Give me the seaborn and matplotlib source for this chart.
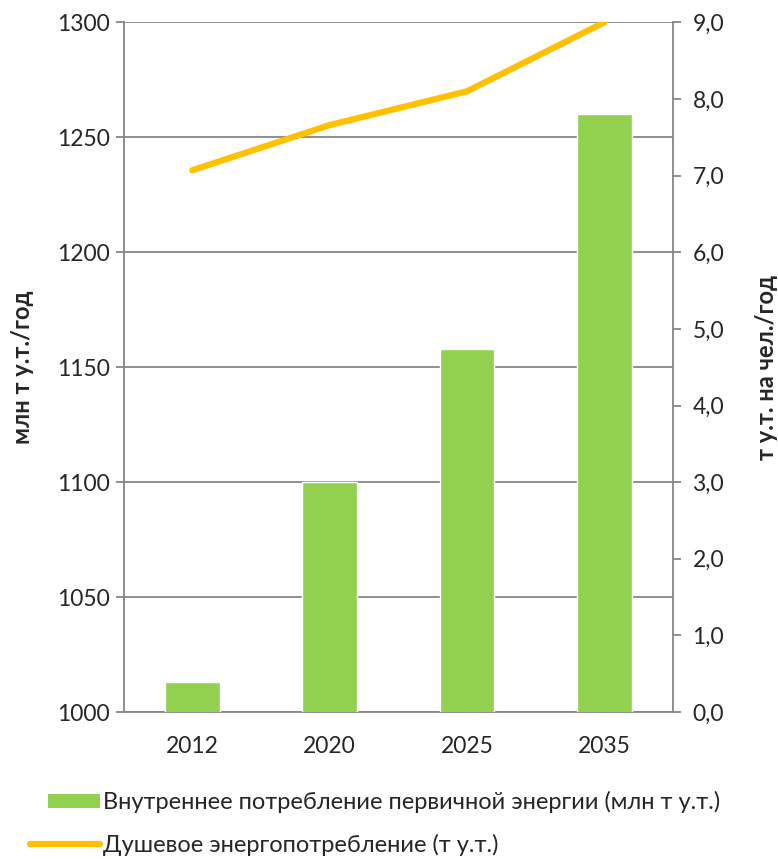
import numpy as np
import pandas as pd
import matplotlib
matplotlib.use("Agg")
import matplotlib.pyplot as plt
from matplotlib.lines import Line2D
from matplotlib.patches import Patch
from matplotlib.ticker import FuncFormatter
import seaborn as sns

years = ["2012", "2020", "2025", "2035"]
consumption = [1013, 1100, 1158, 1260]   # млн т у.т.
per_capita = [7.07, 7.66, 8.1, 9.0]      # т у.т. на чел.

bar_label = "Внутреннее потребление первичной энергии (млн т у.т.)"
line_label = "Душевое энергопотребление (т у.т.)"

sns.set_style("white")
plt.rcParams["font.family"] = ["Lato", "DejaVu Sans"]

green = "#92d050"
orange = "#ffc000"
grey = "#868686"

df = pd.DataFrame({"year": years, "cons": consumption, "pc": per_capita})

fig = plt.figure(figsize=(7.78, 8.59), dpi=100)
ax = fig.add_axes([0.159, 0.171, 0.706, 0.803])

sns.barplot(data=df, x="year", y="cons", color=green, width=0.4,
            saturation=1, ax=ax, zorder=3)

ax.set_ylim(1000, 1300)
ax.set_yticks(np.arange(1000, 1301, 50))
ax.set_xlim(-0.5, 3.5)
ax.yaxis.grid(True, color=grey, linewidth=1.3)
ax.set_axisbelow(True)
ax.set_xlabel("")
ax.set_ylabel("млн т у.т./год", fontsize=17, fontweight="bold")
ax.yaxis.set_label_coords(-0.164, 0.5)
ax.set_xticks(np.arange(-0.5, 4, 1), minor=True)
ax.tick_params(axis="x", which="major", length=0, labelsize=16.5, pad=17)
ax.tick_params(axis="x", which="minor", length=6, color=grey, width=1.3)
ax.tick_params(axis="y", length=6, color=grey, width=1.3, labelsize=16.5,
               left=True, pad=4)
for s in ["left", "right", "bottom"]:
    ax.spines[s].set_color(grey)
    ax.spines[s].set_linewidth(1.3)
ax.spines["top"].set_visible(False)

ax2 = ax.twinx()
sns.pointplot(data=df, x="year", y="pc", color=orange, markers="",
              linewidth=4.5, ax=ax2, errorbar=None)
for ln in ax2.lines:
    ln.set_solid_capstyle("round")
ax2.set_ylim(0, 9)
ax2.set_yticks(np.arange(0, 10, 1))
ax2.yaxis.set_major_formatter(FuncFormatter(lambda v, _: f"{v:.1f}".replace(".", ",")))
ax2.set_xlim(-0.5, 3.5)
ax2.set_xlabel("")
ax2.set_ylabel("т у.т. на чел./год", fontsize=17, fontweight="bold")
ax2.yaxis.set_label_coords(1.149, 0.5)
ax2.tick_params(axis="y", length=6, color=grey, width=1.3, labelsize=16.5,
                right=True, pad=8)
for s in ["left", "right", "bottom", "top"]:
    ax2.spines[s].set_visible(False)

leg1 = fig.legend([Patch(facecolor=green, edgecolor="none")], [bar_label],
                  loc="center left", bbox_to_anchor=(0.0617, 0.066),
                  frameon=False, fontsize=17, borderpad=0, borderaxespad=0,
                  handlelength=2.2, handleheight=0.55, handletextpad=0.13)
leg2 = fig.legend([Line2D([], [], color=orange, linewidth=4.5, solid_capstyle="round")],
                  [line_label], loc="center left", bbox_to_anchor=(0.0386, 0.0163),
                  frameon=False, fontsize=17, borderpad=0, borderaxespad=0,
                  handlelength=2.96, handletextpad=0.13)

fig.savefig("out.png", dpi=100)
